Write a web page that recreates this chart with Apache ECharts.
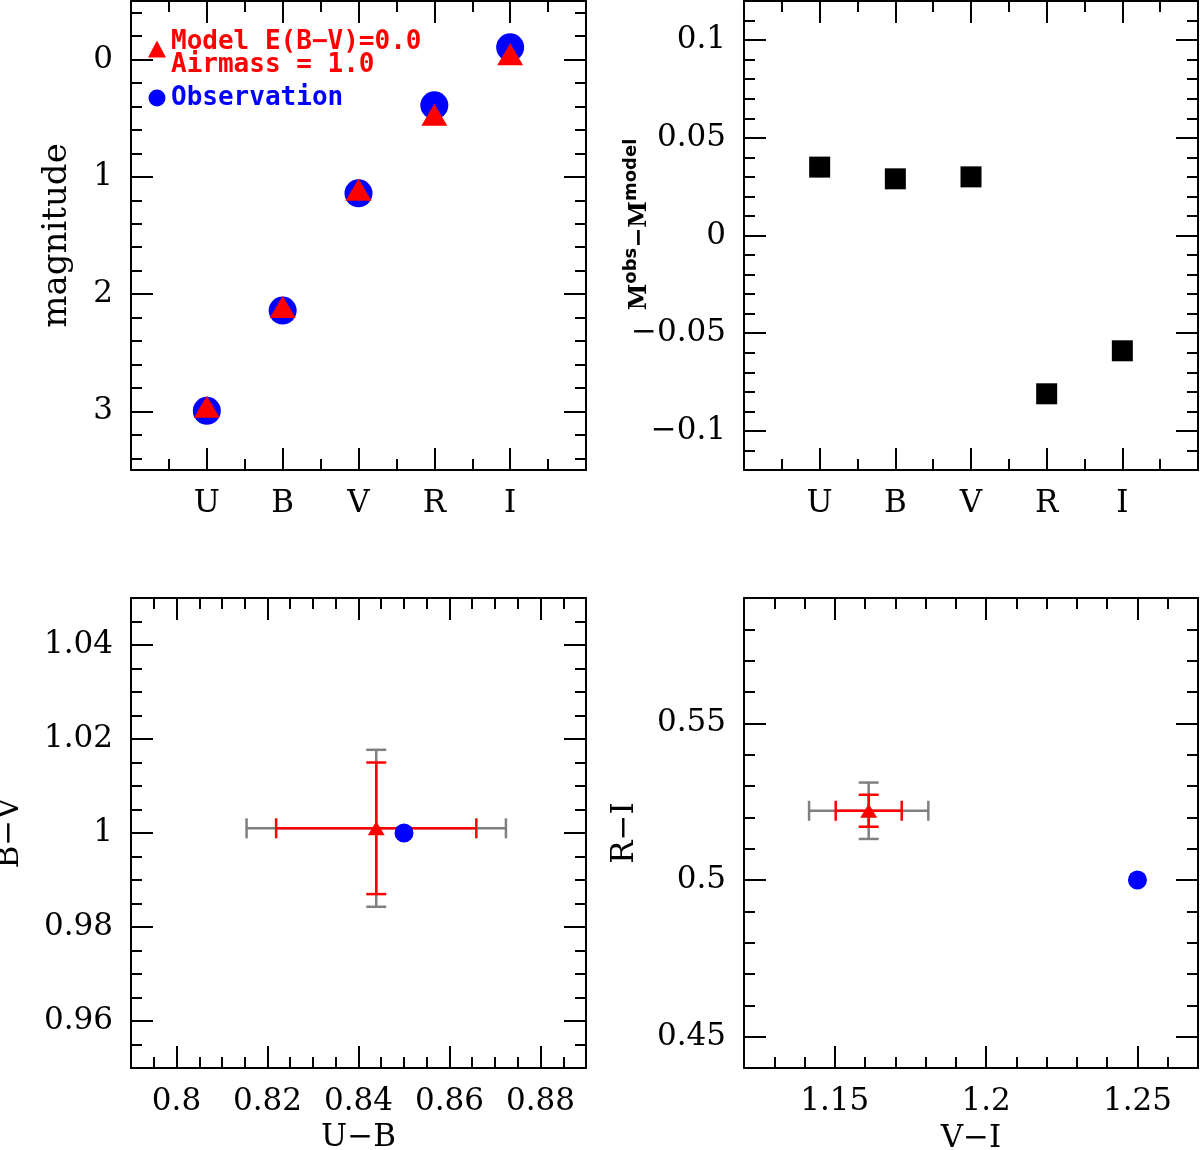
<!DOCTYPE html>
<html>
<head>
<meta charset="utf-8">
<script src="https://cdn.jsdelivr.net/npm/echarts@6/dist/echarts.min.js"></script>
<style>
html, body { margin: 0; padding: 0; background: #fff; }
#main { width: 1200px; height: 1150px; }
</style>
</head>
<body>
<div id="main"></div>
<script>
// photometric bands and their slot on the x axis
var bands = ['U', 'B', 'V', 'R', 'I'];
var bandPos = [1, 2, 3, 4, 5];

// magnitudes: observed vs model (E(B-V)=0.0, airmass 1.0)
var magObs = [2.995, 2.14, 1.14, 0.39, -0.105];
var magModel = [2.96, 2.11, 1.11, 0.47, -0.045];
// M_obs - M_model
var residual = [0.035, 0.029, 0.030, -0.081, -0.059];

// colour-colour: U-B vs B-V
var ubObs = 0.85, bvObs = 1.0;
var ubModel = 0.8439, bvModel = 1.001;
var ubErrRed = 0.022, bvErrRed = 0.014;
var ubErrGrey = 0.0285, bvErrGrey = 0.0167;

// colour-colour: V-I vs R-I
var viObs = 1.25, riObs = 0.5;
var viModel = 1.1612, riModel = 0.5221;
var viErrRed = 0.0109, riErrRed = 0.0051;
var viErrGrey = 0.0197, riErrGrey = 0.009;

var modelName = 'Model E(B\u2212V)=0.0';
var modelNote = 'Airmass = 1.0';

var chart = echarts.init(document.getElementById('main'));

var AX = { color: '#000', width: 2 };
var SERIF = 'DejaVu Serif';

function minusFmt(v) {
    return String(v).replace('-', '\u2212');
}
function bandFmt(v) {
    var i = bandPos.indexOf(v);
    return i >= 0 ? bands[i] : '';
}

// one side of a boxed panel; only bottom/left carry labels
function frameAxis(grid, pos, min, max, o) {
    var labelled = pos === 'bottom' || pos === 'left';
    var a = {
        type: 'value', gridIndex: grid, position: pos,
        min: min, max: max, inverse: !!o.inverse,
        axisLine: { show: true, onZero: false, lineStyle: AX },
        axisTick: { show: true, inside: true, length: 22, lineStyle: AX },
        minorTick: { show: true, splitNumber: o.minor, length: 11, lineStyle: AX },
        splitLine: { show: false },
        minorSplitLine: { show: false },
        axisLabel: {
            show: labelled, showMinLabel: false, showMaxLabel: false,
            margin: 18,
            fontFamily: SERIF, fontSize: 31, color: '#000',
            formatter: o.formatter || minusFmt
        }
    };
    if (o.interval) a.interval = o.interval; else a.splitNumber = o.split;
    if (labelled && o.name) {
        a.name = o.name;
        a.nameLocation = 'middle';
        a.nameGap = o.nameGap;
        if (o.free) a.nameMoveOverlap = false;
        a.nameTextStyle = o.nameStyle || { fontFamily: SERIF, fontSize: 31, color: '#000', lineHeight: 30 };
    }
    return a;
}

function bothSides(grid, dim, min, max, o) {
    var p = dim === 'x' ? ['bottom', 'top'] : ['left', 'right'];
    return [frameAxis(grid, p[0], min, max, o), frameAxis(grid, p[1], min, max, o)];
}

function errorBars(color) {
    return function (params, api) {
        var x = api.value(0), y = api.value(1), ex = api.value(2), ey = api.value(3);
        var c = api.coord([x, y]);
        var l = api.coord([x - ex, y])[0], r = api.coord([x + ex, y])[0];
        var t = api.coord([x, y + ey])[1], b = api.coord([x, y - ey])[1];
        var cap = 10;
        var st = { stroke: color, lineWidth: 2.5 };
        function seg(x1, y1, x2, y2) {
            return { type: 'line', shape: { x1: x1, y1: y1, x2: x2, y2: y2 }, style: st };
        }
        return {
            type: 'group',
            children: [
                seg(l, c[1], r, c[1]),
                seg(l, c[1] - cap, l, c[1] + cap),
                seg(r, c[1] - cap, r, c[1] + cap),
                seg(c[0], t, c[0], b),
                seg(c[0] - cap, t, c[0] + cap, t),
                seg(c[0] - cap, b, c[0] + cap, b)
            ]
        };
    };
}

var xAxes = [], yAxes = [];
// panel 0: magnitudes
xAxes = xAxes.concat(bothSides(0, 'x', 0, 6, { interval: 1, minor: 2, formatter: bandFmt }));
yAxes = yAxes.concat(bothSides(0, 'y', -0.5, 3.5, { split: 4, minor: 5, inverse: true, name: 'magnitude', nameGap: 58,
    nameStyle: { fontFamily: SERIF, fontSize: 34, color: '#000', lineHeight: 32 } }));
// panel 1: residuals
xAxes = xAxes.concat(bothSides(1, 'x', 0, 6, { interval: 1, minor: 2, formatter: bandFmt }));
yAxes = yAxes.concat(bothSides(1, 'y', -0.12, 0.12, { split: 5, minor: 5, name: '{m|M}{s|obs}{m|\u2212M}{s|model}', nameGap: 92, free: true,
    nameStyle: { padding: [0, 0, 0, 22], rich: {
        m: { fontFamily: SERIF, fontWeight: 'bold', fontSize: 24, lineHeight: 30, verticalAlign: 'bottom', color: '#000' },
        s: { fontFamily: 'DejaVu Sans', fontWeight: 'bold', fontSize: 18, lineHeight: 18, verticalAlign: 'top', color: '#000' }
    } } }));
// panel 2: U-B vs B-V
xAxes = xAxes.concat(bothSides(2, 'x', 0.79, 0.89, { split: 5, minor: 4, name: 'U\u2212B', nameGap: 55 }));
yAxes = yAxes.concat(bothSides(2, 'y', 0.95, 1.05, { split: 5, minor: 4, name: 'B\u2212V', nameGap: 106 }));
// panel 3: V-I vs R-I
xAxes = xAxes.concat(bothSides(3, 'x', 1.12, 1.27, { split: 3, minor: 5, name: 'V\u2212I', nameGap: 56 }));
yAxes = yAxes.concat(bothSides(3, 'y', 0.44, 0.59, { split: 3, minor: 5, name: 'R\u2212I', nameGap: 104 }));

function xy(xs, ys) {
    return xs.map(function (x, i) { return [x, ys[i]]; });
}

var LEG = { fontFamily: 'DejaVu Sans Mono', fontWeight: 'bold', fontSize: 26, lineHeight: 23 };

var option = {
    animation: false,
    backgroundColor: '#fff',
    grid: [
        { left: 131, top: 1, width: 455, height: 469, outerBoundsMode: 'none' },
        { left: 744, top: 1, width: 454, height: 469, outerBoundsMode: 'none' },
        { left: 131, top: 598, width: 455, height: 470, outerBoundsMode: 'none' },
        { left: 744, top: 598, width: 454, height: 470, outerBoundsMode: 'none' }
    ],
    xAxis: xAxes,
    yAxis: yAxes,
    legend: {
        orient: 'vertical', left: 148, top: 23, itemGap: 7, padding: 0,
        itemWidth: 18, itemHeight: 17,
        // the model entry carries a second line; a thin empty first line lifts the marker toward line one
        formatter: function (name) {
            if (name === modelName) return '{e|}\n{a|' + modelName + '}\n{a|' + modelNote + '}';
            return '{a|' + name + '}';
        },
        textStyle: { rich: { e: { fontSize: 6, lineHeight: 9 }, a: LEG } },
        data: [
            { name: modelName, icon: 'triangle', textStyle: { color: '#ff0000' } },
            { name: 'Observation', icon: 'circle', textStyle: { color: '#0000ff' } }
        ]
    },
    series: [
        { name: 'Observation', type: 'scatter', xAxisIndex: 0, yAxisIndex: 0, symbol: 'circle', symbolSize: 28,
          itemStyle: { color: '#0000ff', opacity: 1 }, z: 3, data: xy(bandPos, magObs) },
        { name: modelName, type: 'scatter', xAxisIndex: 0, yAxisIndex: 0, symbol: 'triangle', symbolSize: [26, 22],
          itemStyle: { color: '#ff0000', opacity: 1 }, z: 4, data: xy(bandPos, magModel) },

        { name: 'residual', type: 'scatter', xAxisIndex: 2, yAxisIndex: 2, symbol: 'rect', symbolSize: 21,
          itemStyle: { color: '#000', opacity: 1 }, data: xy(bandPos, residual) },

        { name: 'ub grey', type: 'custom', xAxisIndex: 4, yAxisIndex: 4, z: 2, renderItem: errorBars('#808080'),
          encode: { x: 0, y: 1 }, data: [[ubModel, bvModel, ubErrGrey, bvErrGrey]] },
        { name: 'ub red', type: 'custom', xAxisIndex: 4, yAxisIndex: 4, z: 3, renderItem: errorBars('#ff0000'),
          encode: { x: 0, y: 1 }, data: [[ubModel, bvModel, ubErrRed, bvErrRed]] },
        { name: 'ub model', type: 'scatter', xAxisIndex: 4, yAxisIndex: 4, symbol: 'triangle', symbolSize: [17, 14],
          itemStyle: { color: '#ff0000', opacity: 1 }, z: 4, data: [[ubModel, bvModel]] },
        { name: 'ub obs', type: 'scatter', xAxisIndex: 4, yAxisIndex: 4, symbol: 'circle', symbolSize: 19,
          itemStyle: { color: '#0000ff', opacity: 1 }, z: 5, data: [[ubObs, bvObs]] },

        { name: 'vi grey', type: 'custom', xAxisIndex: 6, yAxisIndex: 6, z: 2, renderItem: errorBars('#808080'),
          encode: { x: 0, y: 1 }, data: [[viModel, riModel, viErrGrey, riErrGrey]] },
        { name: 'vi red', type: 'custom', xAxisIndex: 6, yAxisIndex: 6, z: 3, renderItem: errorBars('#ff0000'),
          encode: { x: 0, y: 1 }, data: [[viModel, riModel, viErrRed, riErrRed]] },
        { name: 'vi model', type: 'scatter', xAxisIndex: 6, yAxisIndex: 6, symbol: 'triangle', symbolSize: [17, 14],
          itemStyle: { color: '#ff0000', opacity: 1 }, z: 4, data: [[viModel, riModel]] },
        { name: 'vi obs', type: 'scatter', xAxisIndex: 6, yAxisIndex: 6, symbol: 'circle', symbolSize: 19,
          itemStyle: { color: '#0000ff', opacity: 1 }, z: 5, data: [[viObs, riObs]] }
    ]
};

chart.setOption(option);
</script>
</body>
</html>
